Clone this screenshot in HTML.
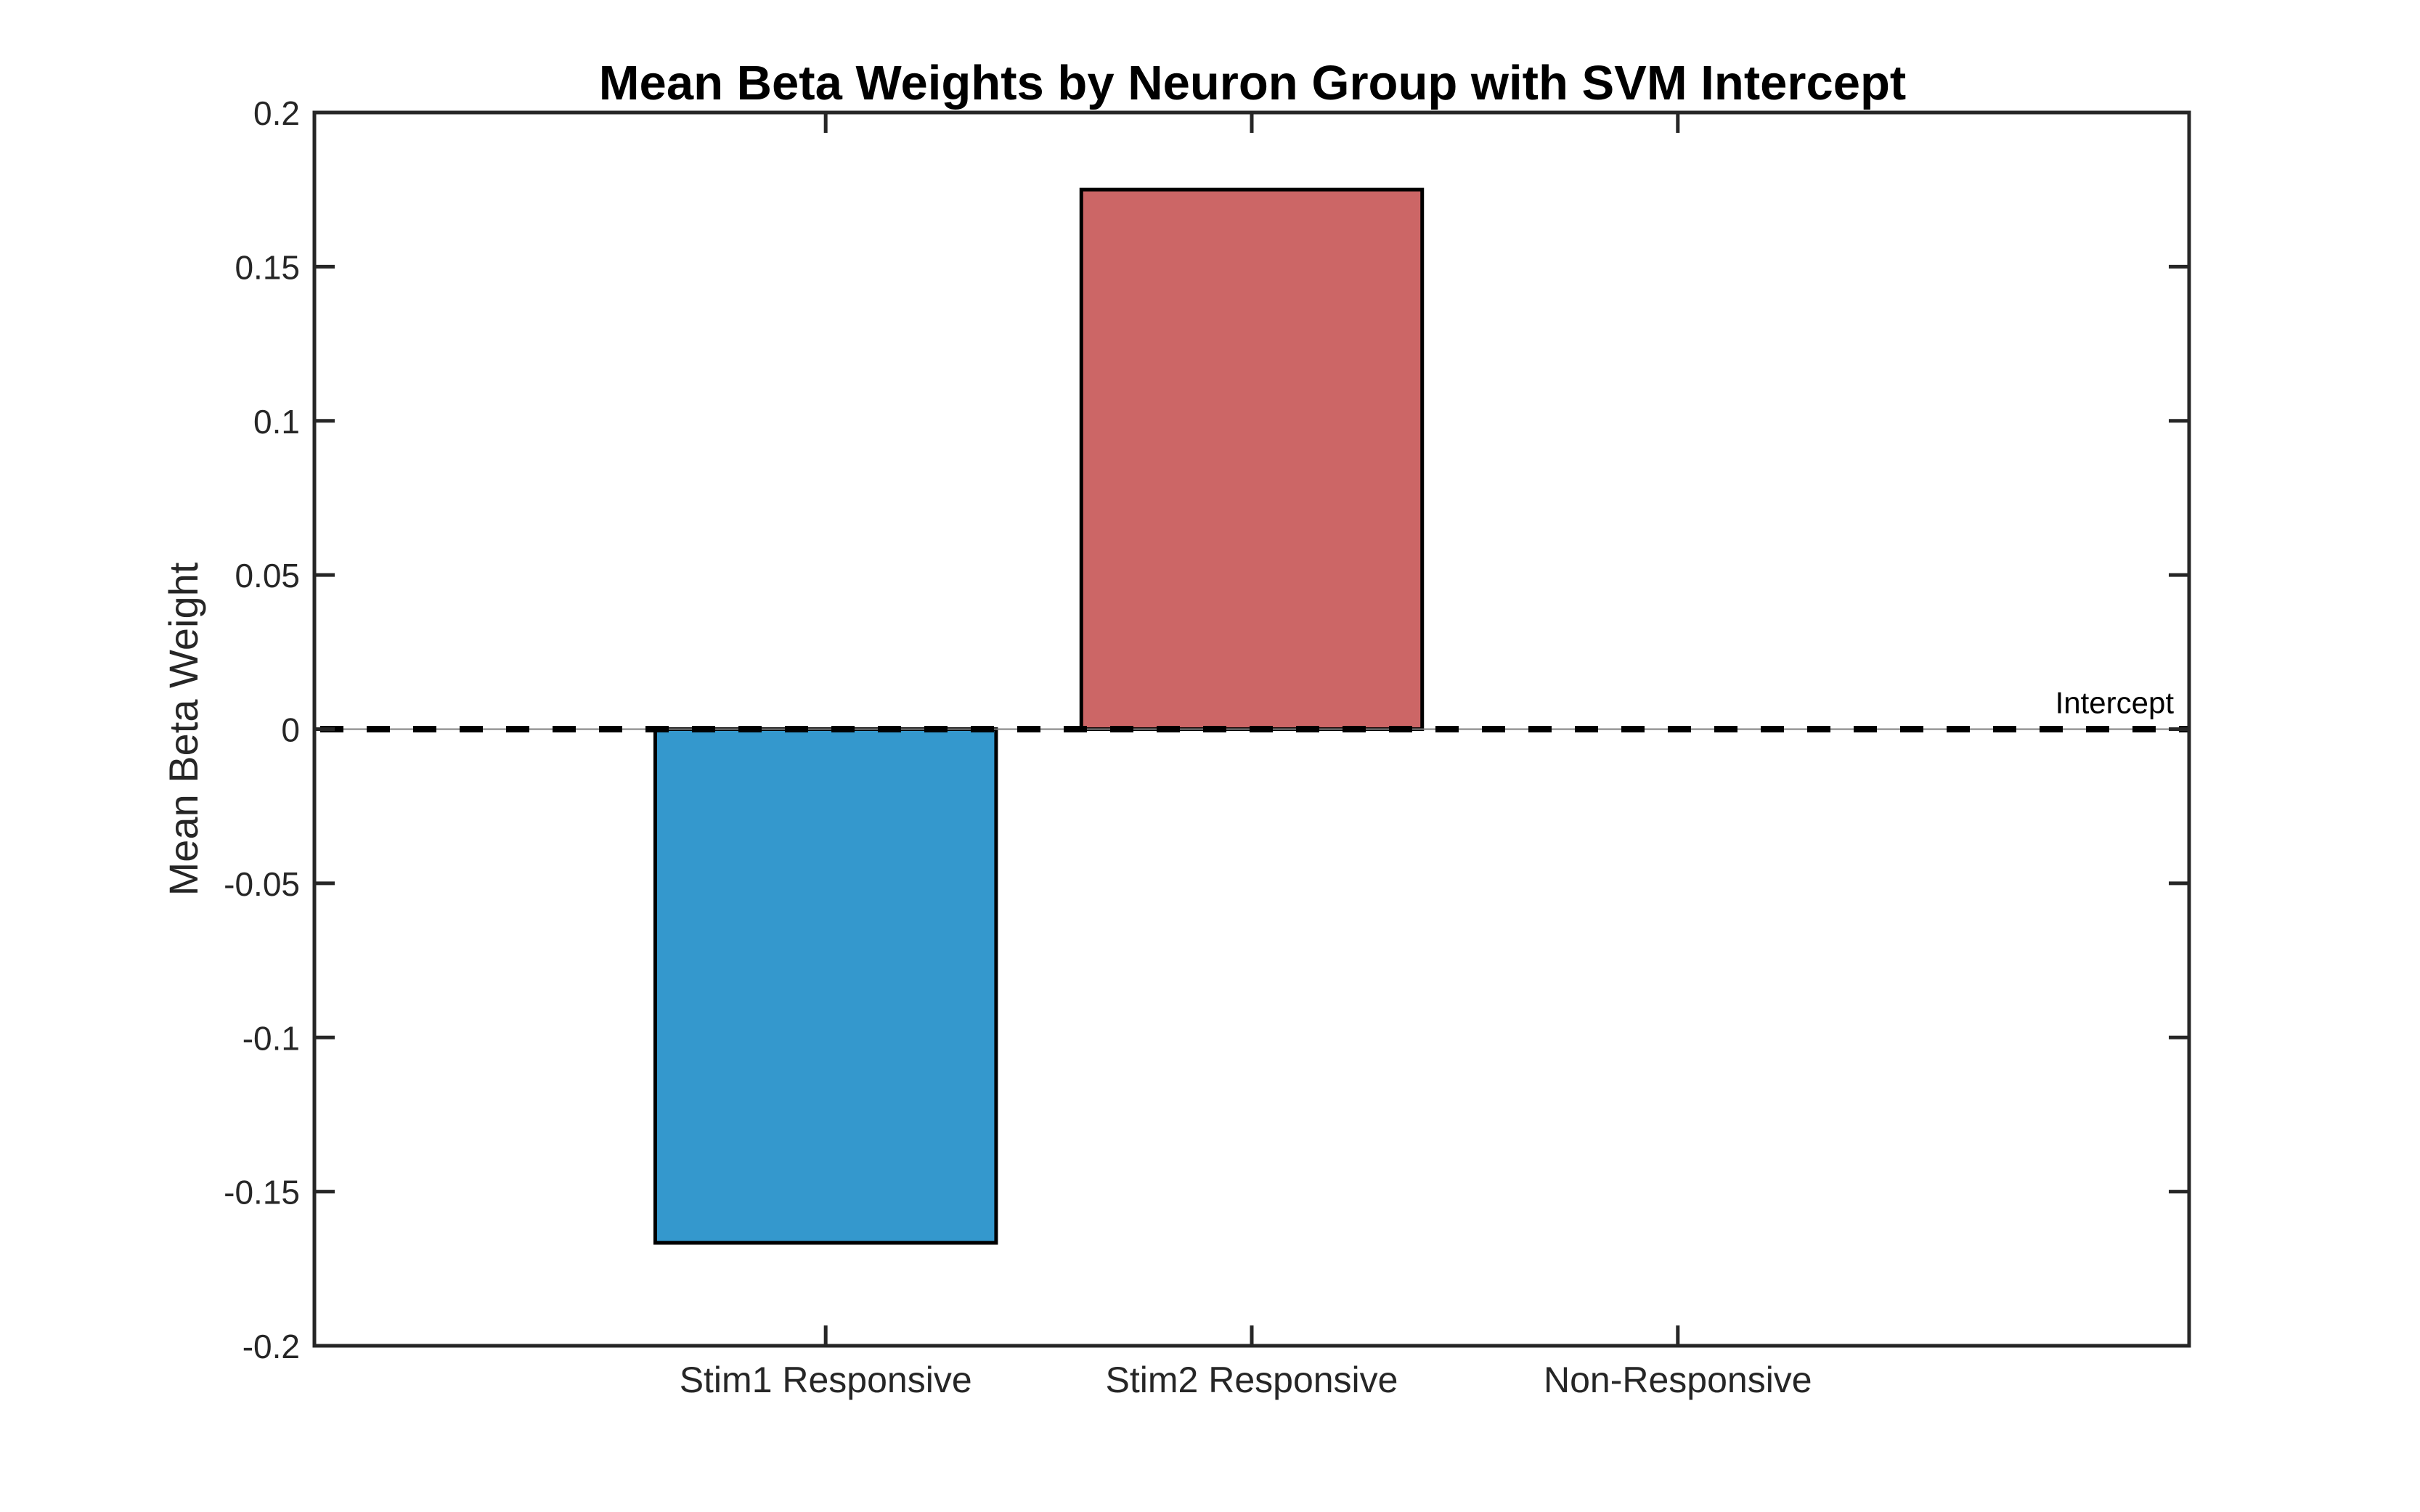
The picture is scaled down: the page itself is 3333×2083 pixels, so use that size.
<!DOCTYPE html>
<html><head><meta charset="utf-8"><style>
html,body{margin:0;padding:0;background:#fff;}
svg{display:block;font-family:"Liberation Sans",Arial,sans-serif;}
</style></head><body>
<svg id="chart" width="3333" height="2083" viewBox="0 0 3333 2083" xmlns="http://www.w3.org/2000/svg">
<rect width="3333" height="2083" fill="#fff"/>
<g id="plot"></g>
</svg>
<script>
const categories = ["Stim1 Responsive", "Stim2 Responsive", "Non-Responsive"];
const values = [-0.1666, 0.175, 0.0];
const barColors = ["#3498cd", "#cc6666", "#cc6666"];
const yTicks = [-0.2, -0.15, -0.1, -0.05, 0, 0.05, 0.1, 0.15, 0.2];
const yTickLabels = ["-0.2", "-0.15", "-0.1", "-0.05", "0", "0.05", "0.1", "0.15", "0.2"];
const intercept = 0;

const L = 433, R = 3015, T = 155, B = 1854;
const xMin = -0.2, xMax = 4.2, yMin = -0.2, yMax = 0.2;
const xs = v => L + (v - xMin) / (xMax - xMin) * (R - L);
const ys = v => B - (v - yMin) / (yMax - yMin) * (B - T);
const NS = "http://www.w3.org/2000/svg";
const g = document.getElementById('plot');
function mk(tag, attrs, parent) {
  const e = document.createElementNS(NS, tag);
  for (const k in attrs) e.setAttribute(k, attrs[k]);
  (parent || g).appendChild(e);
  return e;
}
categories.forEach((c, i) => {
  const x = i + 1, v = values[i];
  const y0 = ys(0), y1 = ys(v);
  if (Math.abs(y1 - y0) < 0.5) return;
  const r = mk('rect', {x: xs(x - 0.4), y: Math.min(y0, y1), width: xs(x + 0.4) - xs(x - 0.4), height: Math.abs(y1 - y0), fill: barColors[i], stroke: '#000', 'stroke-width': 5});
  
  
});
const bl = mk('line', {x1: L, x2: R, y1: ys(0), y2: ys(0), stroke: '#7f7f7f', 'stroke-width': 2});


const il = mk('line', {x1: L, x2: R, y1: ys(intercept), y2: ys(intercept), stroke: '#000', 'stroke-width': 9, 'stroke-dasharray': '32 32', 'stroke-dashoffset': '-8'});


const it = mk('text', {x: 2994, y: ys(intercept) - 22, 'text-anchor': 'end', 'font-size': 42, fill: '#000'});
it.textContent = 'Intercept';


const box = mk('rect', {x: L, y: T, width: R - L, height: B - T, fill: 'none', stroke: '#262626', 'stroke-width': 5});


yTicks.forEach((t, i) => {
  const y = ys(t);
  mk('line', {x1: L, x2: L + 28, y1: y, y2: y, stroke: '#262626', 'stroke-width': 5});
  mk('line', {x1: R, x2: R - 28, y1: y, y2: y, stroke: '#262626', 'stroke-width': 5});
  const tx = mk('text', {x: 413, y: y + 17, 'text-anchor': 'end', 'font-size': 46, fill: '#262626'});
  tx.textContent = yTickLabels[i];
  
  
});
categories.forEach((c, i) => {
  const x = xs(i + 1);
  mk('line', {x1: x, x2: x, y1: B, y2: B - 28, stroke: '#262626', 'stroke-width': 5});
  mk('line', {x1: x, x2: x, y1: T, y2: T + 28, stroke: '#262626', 'stroke-width': 5});
  const tx = mk('text', {x: x, y: 1918, 'text-anchor': 'middle', 'font-size': 50, fill: '#262626'});
  tx.textContent = c;
  
  
});
const yl = mk('text', {x: 0, y: 0, 'text-anchor': 'middle', 'font-size': 56, fill: '#262626', transform: 'translate(272,' + ys(0) + ') rotate(-90)'});
yl.textContent = 'Mean Beta Weight';


const ti = mk('text', {x: 1725, y: 137, 'text-anchor': 'middle', 'font-size': 67, 'font-weight': 'bold', fill: '#000'});
ti.textContent = 'Mean Beta Weights by Neuron Group with SVM Intercept';


</script>
</body></html>
